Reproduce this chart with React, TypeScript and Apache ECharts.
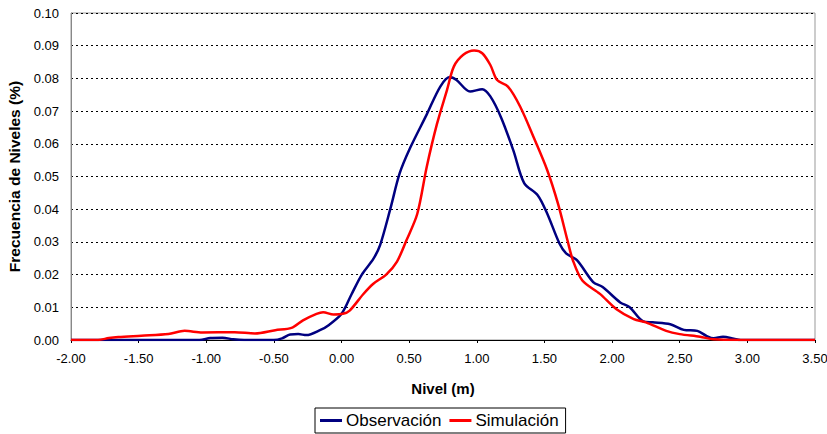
import React, { useEffect, useRef } from "react";
import * as echarts from "echarts";

const obsX = [-2.0, -1.05, -0.97, -0.88, -0.8, -0.72, -0.5, -0.44, -0.38, -0.32, -0.26, -0.16, -0.09, 0.0, 0.074, 0.15, 0.235, 0.285, 0.36, 0.43, 0.51, 0.63, 0.73, 0.8, 0.85, 0.95, 1.04, 1.1, 1.18, 1.27, 1.35, 1.45, 1.52, 1.61, 1.66, 1.74, 1.86, 1.93, 2.06, 2.13, 2.23, 2.3, 2.43, 2.53, 2.63, 2.7, 2.75, 2.82, 2.9, 2.95, 3.5];
const obsY = [0, 0, 0.0006, 0.0007, 0.0002, 0, 0, 0.0005, 0.0017, 0.0018, 0.0015, 0.003, 0.0047, 0.008, 0.014, 0.02, 0.0248, 0.029, 0.04, 0.051, 0.059, 0.069, 0.0775, 0.0804, 0.0795, 0.076, 0.0767, 0.0745, 0.068, 0.058, 0.048, 0.0443, 0.0387, 0.0296, 0.0265, 0.0244, 0.0177, 0.0162, 0.0115, 0.01, 0.0057, 0.0054, 0.0048, 0.0031, 0.0028, 0.0012, 0.0005, 0.001, 0.0004, 0, 0];

const simX = [-2.0, -1.8, -1.72, -1.65, -1.48, -1.28, -1.16, -1.03, -0.79, -0.64, -0.49, -0.37, -0.285, -0.185, -0.136, -0.06, 0.01, 0.06, 0.16, 0.235, 0.33, 0.41, 0.48, 0.56, 0.63, 0.705, 0.78, 0.83, 0.9, 0.98, 1.04, 1.1, 1.15, 1.23, 1.32, 1.42, 1.52, 1.6, 1.67, 1.71, 1.78, 1.91, 2.03, 2.16, 2.25, 2.4, 2.5, 2.65, 2.75, 2.95, 3.5];
const simY = [0, 0, 0.0006, 0.0009, 0.0013, 0.0018, 0.0028, 0.0023, 0.0024, 0.002, 0.003, 0.0037, 0.006, 0.008, 0.0085, 0.0078, 0.008, 0.009, 0.014, 0.0172, 0.02, 0.024, 0.0305, 0.0386, 0.053, 0.066, 0.0765, 0.0836, 0.0872, 0.0885, 0.0877, 0.0841, 0.0795, 0.0775, 0.0714, 0.062, 0.052, 0.0417, 0.0305, 0.0244, 0.0182, 0.0141, 0.0095, 0.0064, 0.0054, 0.0028, 0.0018, 0.001, 0.0002, 0, 0];

const seriesNames = ["Observación", "Simulación"];
const xTitle = "Nivel (m)";
const yTitle = "Frecuencia de Niveles (%)";

const FONT = "Arial, 'Liberation Sans', sans-serif";

export default function App() {
  const ref = useRef<HTMLDivElement>(null);
  useEffect(() => {
    if (!ref.current) return;
    const chart = echarts.init(ref.current, undefined, { renderer: "svg" });
    const zip = (xs: number[], ys: number[]) => xs.map((x, i) => [x, ys[i]]);
    chart.setOption({
      animation: false,
      backgroundColor: "#fff",
      textStyle: { fontFamily: FONT },
      grid: {
        left: 71, right: 12, top: 13, bottom: 94,
        outerBoundsMode: "none",
        containLabel: false,
        show: true, borderColor: "#999", borderWidth: 1,
      },
      legend: {
        left: 315, top: 408,
        padding: [4, 7, 4, 5],
        itemGap: 8,
        borderColor: "#000", borderWidth: 1,
        itemWidth: 22, itemHeight: 3,
        icon: "rect",
        textStyle: { fontFamily: FONT, fontSize: 17, color: "#000", padding: [0, 0, 0, -1] },
        data: seriesNames,
      },
      xAxis: {
        type: "value", min: -2, max: 3.5, interval: 0.5,
        name: xTitle, nameLocation: "middle", nameGap: 41,
        nameTextStyle: { fontFamily: FONT, fontWeight: "bold", fontSize: 15, color: "#000" },
        axisLine: { onZero: false, lineStyle: { color: "#000", width: 1 } },
        axisTick: { show: true, length: 3, lineStyle: { color: "#000" } },
        axisLabel: { formatter: (v: number) => v.toFixed(2), fontSize: 13, color: "#000", margin: 12, fontFamily: FONT },
        splitLine: { show: false },
      },
      yAxis: {
        type: "value", min: 0, max: 0.1, interval: 0.01,
        name: yTitle, nameLocation: "middle", nameGap: 49, nameRotate: 90,
        nameTextStyle: { fontFamily: FONT, fontWeight: "bold", fontSize: 15.5, color: "#000" },
        axisLine: { show: true, onZero: false, lineStyle: { color: "#888", width: 1 } },
        axisTick: { show: false },
        axisLabel: { formatter: (v: number) => v.toFixed(2), fontSize: 13, color: "#000", margin: 12, fontFamily: FONT },
        splitLine: { show: true, lineStyle: { color: "#000", type: [2, 3], width: 1 } },
      },
      series: [
        {
          name: seriesNames[0], type: "line", data: zip(obsX, obsY),
          smooth: 0.3, symbol: "none", color: "#000080",
          lineStyle: { color: "#000080", width: 2.5 }, z: 2,
        },
        {
          name: seriesNames[1], type: "line", data: zip(simX, simY),
          smooth: 0.3, symbol: "none", color: "#FF0000",
          lineStyle: { color: "#FF0000", width: 2.5 }, z: 3,
        },
      ],
    });
    return () => chart.dispose();
  }, []);
  return <div ref={ref} style={{ width: 827, height: 434, position: "absolute", left: 0, top: 0 }} />;
}
